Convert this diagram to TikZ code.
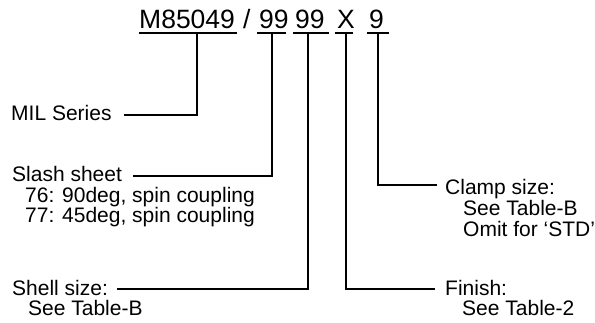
\documentclass[tikz,border=0pt]{standalone}
\usepackage{fontspec}
\setmainfont{Liberation Sans}
\begin{document}
\begin{tikzpicture}[x=1pt,y=-1pt,
  code/.style={anchor=base west,inner sep=0pt,font=\fontsize{26.5}{30}\selectfont},
  lbl/.style={anchor=base west,inner sep=0pt,font=\fontsize{21}{25}\selectfont},
  uline/.style={line width=2pt},
  conn/.style={line width=1.2pt}]
\useasboundingbox (0,0) rectangle (595,322);
% code
\node[code] (m) at (139,28) {M85049};
\node[code] (slash) at (243,28) {/};
\node[code] (c1) at (259,28) {99};
\node[code] (c2) at (295,28) {99};
\node[code] (c3) at (337,28) {X};
\node[code] (c4) at (369,28) {9};
% underlines
\draw[uline] (139,33) -- (237,33);
\draw[uline] (257,33) -- (286,33);
\draw[uline] (293,33) -- (329,33);
\draw[uline] (335,33) -- (353,33);
\draw[uline] (367,33) -- (389,33);
\coordinate (uM) at (197,33);
\coordinate (u1) at (272,33);
\coordinate (u2) at (308,33);
\coordinate (u3) at (346,33);
\coordinate (u4) at (378,33);
% labels
\node[lbl] (mil) at (11,120) {MIL Series};
\node[lbl] (ss) at (12,181) {Slash sheet};
\node[lbl] (ss1) at (25,202) {76: 90deg, spin coupling};
\node[lbl] (ss2) at (25,222) {77: 45deg, spin coupling};
\node[lbl] (sh) at (12,295) {Shell size:};
\node[lbl] (sh1) at (28,315) {See Table-B};
\node[lbl] (cl) at (445,194) {Clamp size:};
\node[lbl] (cl1) at (463,215) {See Table-B};
\node[lbl] (cl2) at (463,236) {Omit for ‘STD’};
\node[lbl] (fi) at (445,295) {Finish:};
\node[lbl] (fi1) at (462,315) {See Table-2};
% connectors
\draw[conn] (uM) |- ([xshift=12pt,yshift=5pt]mil.base east);
\draw[conn] (u1) |- ([xshift=11pt,yshift=5pt]ss.base east);
\draw[conn] (u2) |- ([xshift=9pt,yshift=6pt]sh.base east);
\draw[conn] (u3) |- ([xshift=-10pt,yshift=6pt]fi.base west);
\draw[conn] (u4) |- ([xshift=-8pt,yshift=9pt]cl.base west);
\end{tikzpicture}
\end{document}
